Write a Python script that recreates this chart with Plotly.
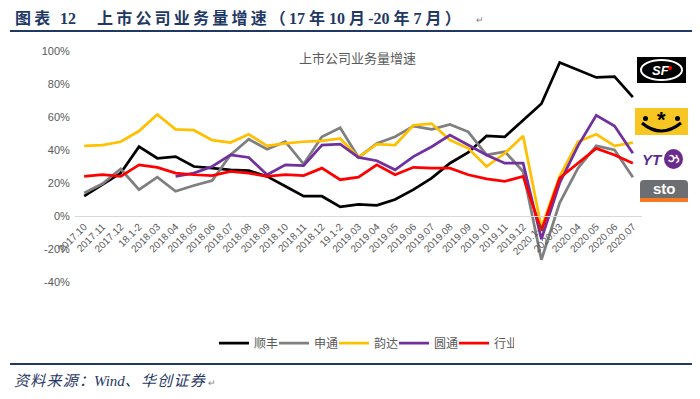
import plotly.graph_objects as go

categories = ["2017.10", "2017.11", "2017.12", "18.1-2", "2018.03", "2018.04", "2018.05", "2018.06",
              "2018.07", "2018.08", "2018.09", "2018.10", "2018.11", "2018.12", "19.1-2", "2019.03",
              "2019.04", "2019.05", "2019.06", "2019.07", "2019.08", "2019.09", "2019.10", "2019.11",
              "2019.12", "2020.1-2", "2020.03", "2020.04", "2020.05", "2020.06", "2020.07"]

sf = [12, 19, 26, 42, 35, 36, 30, 29, 28, 27.5, 24, 18, 12, 12, 5.5, 7, 6.5, 10, 16, 23, 32, 38.5,
      48.5, 48, 58, 68, 93, 88.5, 84, 84.5, 72]
sto = [14, 19.5, 28.5, 16, 23.5, 15, 18.5, 21.5, 37, 46.5, 40.5, 45, 31.5, 48, 53.5, 35.5, 44, 48,
       54.5, 52.5, 55.5, 51, 37, 39, 27, -26.5, 8, 29, 42.5, 40, 23.5]
yunda = [42.5, 43, 45, 51.5, 61.5, 52.5, 52, 46, 44.5, 49.5, 42.5, 44, 45, 45.5, 47, 35.5, 43.5, 43,
         55, 56, 46, 41, 30, 38, 48.5, -7, 24, 45, 49.5, 42.5, 44.5]
yto = [None, None, None, None, None, 24, 26, 30, 37, 35.5, 25, 31, 30.5, 43, 43.5, 35.5, 33.5, 28,
       36, 42, 49, 43, 37, 32, 32, -14, 20, 42.5, 61, 54.5, 38]
industry = [24, 25, 24, 31, 29.5, 26, 25, 24.5, 27, 26, 24, 25, 24.5, 29, 22, 23.5, 31, 25, 29.5, 29,
            29, 25, 22.5, 21, 24, -9, 23, 32, 41, 37, 32]

series_names = ["顺丰", "申通", "韵达", "圆通", "行业"]
series_values = [sf, sto, yunda, yto, industry]
series_colors = ["#000000", "#7f7f7f", "#ffc000", "#7030a0", "#ff0000"]

y_ticks = [-40, -20, 0, 20, 40, 60, 80, 100]
y_ticklabels = [f"{v}%" for v in y_ticks]

# The page body has an 8px margin; work in page pixels and convert.
OFF = 8
W, H = 700 - OFF, 399 - OFF
L, T = 75 - OFF, 51 - OFF
R = W - (642 - OFF)
B = H - (282 - OFF)
PW, PH = W - L - R, H - T - B


def px(xp):
    return (xp - OFF - L) / PW


def py(yp):
    return (H - B - (yp - OFF)) / PH


def spaced(s, sep="\u2009"):
    out = ""
    for i, ch in enumerate(s):
        out += ch
        if i < len(s) - 1:
            nxt = s[i + 1]
            if ch != " " and nxt != " " and (ord(ch) > 127 or ord(nxt) > 127):
                out += sep
    return out


fig = go.Figure()
for name, vals, col in zip(series_names, series_values, series_colors):
    fig.add_trace(go.Scatter(x=categories, y=vals, name=name, mode="lines",
                             line=dict(color=col, width=2.75), connectgaps=False))

navy = "#1f3864"
zero_pos = 40 / 140

fig.update_layout(
    width=W, height=H,
    margin=dict(l=L, r=R, t=T, b=B, autoexpand=False),
    paper_bgcolor="white", plot_bgcolor="white",
    font=dict(family="Liberation Sans, Arial, Noto Sans CJK SC", color="#595959"),
    showlegend=True,
    legend=dict(orientation="h", x=px(364), xanchor="center", y=py(343), yanchor="middle",
                font=dict(size=12, family="Noto Sans CJK SC", color="#595959"),
                itemwidth=30, tracegroupgap=0, bgcolor="rgba(0,0,0,0)",
                entrywidth=15, entrywidthmode="pixels"),
    xaxis=dict(type="category", anchor="free", position=zero_pos, showline=True,
               linecolor="#d9d9d9", linewidth=1, showgrid=False, ticks="",
               tickangle=-45, tickfont=dict(size=10, color="#595959"), zeroline=False,
               range=[-0.5, 30.5]),
    yaxis=dict(range=[-40, 100], tickvals=y_ticks, ticktext=y_ticklabels, showgrid=False,
               zeroline=False, showline=False, ticks="outside", ticklen=2, tickcolor="rgba(0,0,0,0)",
               tickfont=dict(size=11, color="#595959")),
)

hdr_font = dict(size=16, family="Liberation Serif, Noto Sans CJK SC", color=navy)
ann = []
ann.append(dict(x=px(357), y=py(58), xref="paper", yref="paper", text="上市公司业务量增速",
                showarrow=False, font=dict(size=13, family="Noto Sans CJK SC", color="#595959"),
                xanchor="center", yanchor="middle"))
ann.append(dict(x=px(13), y=py(18), xref="paper", yref="paper", text="<b>" + spaced("图表") + "</b>",
                showarrow=False, font=hdr_font, xanchor="left", yanchor="middle"))
ann.append(dict(x=px(58), y=py(18), xref="paper", yref="paper", text="<b>12</b>",
                showarrow=False, font=hdr_font, xanchor="left", yanchor="middle"))
ann.append(dict(x=px(95), y=py(18), xref="paper", yref="paper",
                text="<b>" + spaced("上市公司业务量增速（17 年 10 月-20 年 7 月）") + "</b>",
                showarrow=False, font=hdr_font, xanchor="left", yanchor="middle"))
ann.append(dict(x=px(474), y=py(20), xref="paper", yref="paper", text="↵",
                showarrow=False, font=dict(size=9, color="#808080"), xanchor="left", yanchor="middle"))
ann.append(dict(x=px(12), y=py(381), xref="paper", yref="paper",
                text="<i>" + spaced("资料来源：", "\u200a") + "Wind" + spaced("、华创证券", "\u200a") + "</i>",
                showarrow=False, font=dict(size=15, family="Liberation Serif, Noto Sans CJK SC", color=navy),
                xanchor="left", yanchor="middle"))
ann.append(dict(x=px(206), y=py(383), xref="paper", yref="paper", text="↵",
                showarrow=False, font=dict(size=9, color="#808080"), xanchor="left", yanchor="middle"))

shapes = []
# header / footer rules
shapes.append(dict(type="line", xref="paper", yref="paper", x0=px(10), x1=px(700), y0=py(31), y1=py(31),
                   line=dict(color=navy, width=2)))
shapes.append(dict(type="line", xref="paper", yref="paper", x0=px(10), x1=px(700), y0=py(364), y1=py(364),
                   line=dict(color=navy, width=2)))

# SF logo
shapes.append(dict(type="rect", xref="paper", yref="paper", x0=px(637), x1=px(686), y0=py(83), y1=py(57),
                   fillcolor="black", line=dict(width=0)))
shapes.append(dict(type="circle", xref="paper", yref="paper", x0=px(641), x1=px(682), y0=py(80), y1=py(60),
                   fillcolor="rgba(0,0,0,0)", line=dict(color="white", width=2)))
ann.append(dict(x=px(661), y=py(70), xref="paper", yref="paper", text="<b><i>SF</i></b>", showarrow=False,
                font=dict(size=13, color="white", family="Liberation Sans"), xanchor="center", yanchor="middle"))
shapes.append(dict(type="circle", xref="paper", yref="paper", x0=px(668), x1=px(672), y0=py(70), y1=py(66),
                   fillcolor="red", line=dict(width=0)))

# Yunda logo
shapes.append(dict(type="rect", xref="paper", yref="paper", x0=px(635), x1=px(688), y0=py(135), y1=py(108),
                   fillcolor="#f7c623", line=dict(width=0)))
shapes.append(dict(type="circle", xref="paper", yref="paper", x0=px(643), x1=px(648), y0=py(121), y1=py(116),
                   fillcolor="black", line=dict(width=0)))
shapes.append(dict(type="circle", xref="paper", yref="paper", x0=px(675), x1=px(680), y0=py(121), y1=py(116),
                   fillcolor="black", line=dict(width=0)))
ann.append(dict(x=px(661), y=py(119), xref="paper", yref="paper", text="<b>*</b>", showarrow=False,
                font=dict(size=22, color="black", family="Liberation Sans"), xanchor="center", yanchor="middle"))
shapes.append(dict(type="path", xref="paper", yref="paper",
                   path=f"M {px(642)},{py(123)} Q {px(661)},{py(139)} {px(681)},{py(123)}",
                   line=dict(color="black", width=3)))

# YTO logo
ann.append(dict(x=px(652), y=py(159), xref="paper", yref="paper", text="<b><i>YT</i></b>", showarrow=False,
                font=dict(size=15, color="#5c2d91", family="Liberation Sans"), xanchor="center", yanchor="middle"))
shapes.append(dict(type="circle", xref="paper", yref="paper", x0=px(664), x1=px(683), y0=py(169), y1=py(149),
                   fillcolor="#6a2c8c", line=dict(width=0)))
ann.append(dict(x=px(673.5), y=py(159), xref="paper", yref="paper", text="<b>ઝ</b>", showarrow=False,
                font=dict(size=12, color="white"), xanchor="center", yanchor="middle"))

# STO logo
shapes.append(dict(type="path", xref="paper", yref="paper",
                   path=(f"M {px(644)},{py(180)} L {px(684)},{py(180)} Q {px(688)},{py(180)} {px(688)},{py(184)} "
                         f"L {px(688)},{py(198)} L {px(640)},{py(198)} L {px(640)},{py(184)} "
                         f"Q {px(640)},{py(180)} {px(644)},{py(180)} Z"),
                   fillcolor="#6d6e71", line=dict(width=0)))
shapes.append(dict(type="rect", xref="paper", yref="paper", x0=px(640), x1=px(688), y0=py(202), y1=py(198),
                   fillcolor="#f47920", line=dict(width=0)))
ann.append(dict(x=px(664), y=py(188), xref="paper", yref="paper", text="<b>sto</b>", showarrow=False,
                font=dict(size=15, color="white", family="Liberation Sans"), xanchor="center", yanchor="middle"))

fig.update_layout(annotations=ann, shapes=shapes)

fig.write_html("out.html")
